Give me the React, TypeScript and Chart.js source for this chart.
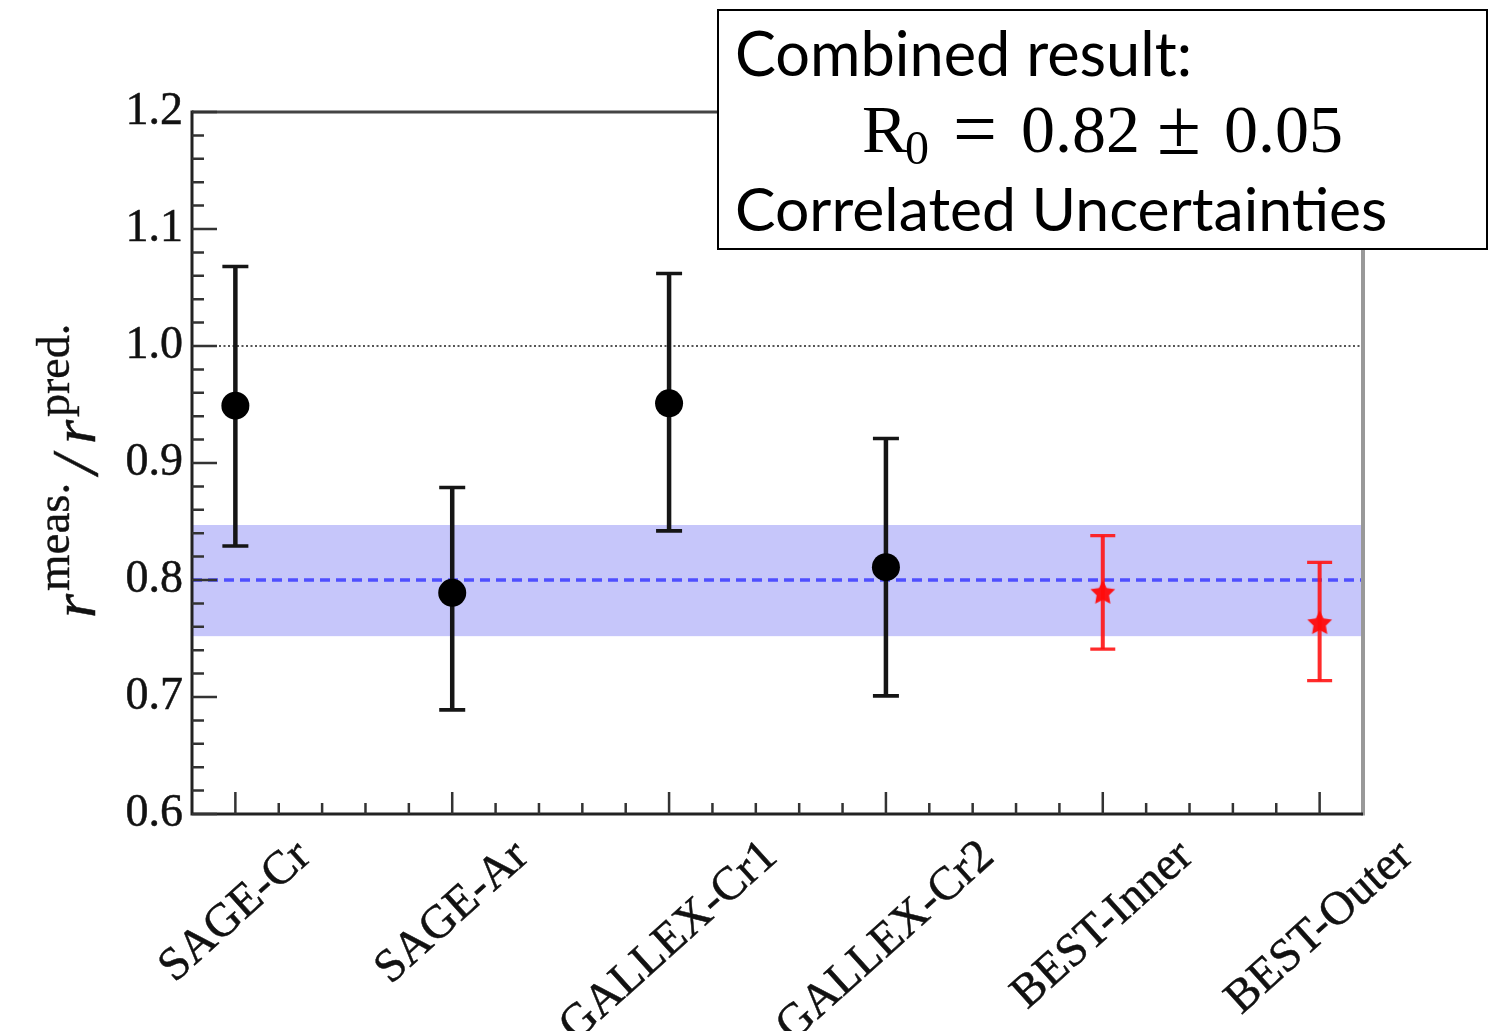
import React, { useEffect, useRef } from "react";
import { Chart, registerables } from "chart.js";

Chart.register(...registerables);

// ---------------- data ----------------
const categories = ["SAGE-Cr", "SAGE-Ar", "GALLEX-Cr1", "GALLEX-Cr2", "BEST-Inner", "BEST-Outer"];
const galliumIdx = [0, 1, 2, 3];
const galliumValues = [0.949, 0.789, 0.951, 0.811];
const galliumLow = [0.829, 0.689, 0.842, 0.701];
const galliumHigh = [1.068, 0.879, 1.062, 0.921];
const bestIdx = [4, 5];
const bestValues = [0.79, 0.764];
const bestLow = [0.741, 0.714];
const bestHigh = [0.838, 0.815];
const combinedCentral = 0.8;
const combinedBand = [0.752, 0.847];
const referenceRatio = 1.0;
const yTicks = [0.6, 0.7, 0.8, 0.9, 1.0, 1.1, 1.2];
const xRange = [-0.2, 5.2];

const SERIF = "'Liberation Serif', 'Times New Roman', serif";
const SANS = "Lato, 'Open Sans', sans-serif";

function makeStar(r: number, color: string) {
  const size = Math.ceil(r * 2 + 2);
  const c = document.createElement("canvas");
  c.width = size;
  c.height = size;
  const g = c.getContext("2d")!;
  g.fillStyle = color;
  g.beginPath();
  for (let k = 0; k < 10; k++) {
    const rad = k % 2 === 0 ? r : r * 0.5;
    const a = -Math.PI / 2 + (k * Math.PI) / 5;
    g.lineTo(size / 2 + rad * Math.cos(a), size / 2 + rad * Math.sin(a) + 1.5);
  }
  g.closePath();
  g.fill();
  return c;
}

function strokeFill(ctx: CanvasRenderingContext2D, txt: string, x: number, y: number, sw: number) {
  ctx.fillText(txt, x, y);
  if (sw > 0) {
    ctx.lineWidth = sw;
    ctx.strokeText(txt, x, y);
  }
}

const decorPlugin = {
  id: "decor",
  beforeDatasetsDraw(chart: any) {
    const { ctx, chartArea, scales } = chart;
    const xs = scales.x;
    const ys = scales.y;
    const L = chartArea.left;
    const R = chartArea.right;
    ctx.save();
    // band
    const yb1 = ys.getPixelForValue(combinedBand[1]);
    const yb0 = ys.getPixelForValue(combinedBand[0]);
    ctx.fillStyle = "#c6c6fa";
    ctx.fillRect(L, yb1, R - L, yb0 - yb1);
    // dashed central
    ctx.strokeStyle = "#4f4fff";
    ctx.lineWidth = 3.5;
    ctx.setLineDash([10, 6]);
    const yc = ys.getPixelForValue(combinedCentral);
    ctx.beginPath();
    ctx.moveTo(L, yc);
    ctx.lineTo(R, yc);
    ctx.stroke();
    // dotted reference
    ctx.strokeStyle = "#555";
    ctx.lineWidth = 2;
    ctx.setLineDash([2, 2.5]);
    const yr = ys.getPixelForValue(referenceRatio);
    ctx.beginPath();
    ctx.moveTo(L, yr);
    ctx.lineTo(R, yr);
    ctx.stroke();
    ctx.setLineDash([]);

    const drawBars = (idx: number[], lo: number[], hi: number[], color: string, lw: number, cap: number) => {
      ctx.strokeStyle = color;
      idx.forEach((xi, i) => {
        const px = xs.getPixelForValue(xi);
        const pl = ys.getPixelForValue(lo[i]);
        const ph = ys.getPixelForValue(hi[i]);
        ctx.lineWidth = lw;
        ctx.beginPath();
        ctx.moveTo(px, pl);
        ctx.lineTo(px, ph);
        ctx.stroke();
        ctx.lineWidth = lw * 0.8;
        ctx.beginPath();
        ctx.moveTo(px - cap / 2, pl);
        ctx.lineTo(px + cap / 2, pl);
        ctx.moveTo(px - cap / 2, ph);
        ctx.lineTo(px + cap / 2, ph);
        ctx.stroke();
      });
    };
    drawBars(galliumIdx, galliumLow, galliumHigh, "#151515", 4.5, 26);
    drawBars(bestIdx, bestLow, bestHigh, "rgba(255,20,20,0.9)", 4, 25);
    ctx.restore();
  },
  afterDraw(chart: any) {
    const { ctx, chartArea, scales } = chart;
    const xs = scales.x;
    const ys = scales.y;
    const { left: L, right: R, top: T, bottom: B } = chartArea;
    ctx.save();
    ctx.lineCap = "butt";
    // frame
    ctx.strokeStyle = "#444";
    ctx.lineWidth = 3;
    ctx.beginPath();
    ctx.moveTo(L, T);
    ctx.lineTo(R, T);
    ctx.stroke();
    ctx.strokeStyle = "#999";
    ctx.lineWidth = 4;
    ctx.beginPath();
    ctx.moveTo(R, T);
    ctx.lineTo(R, B + 1.5);
    ctx.stroke();
    ctx.strokeStyle = "#222";
    ctx.lineWidth = 3;
    ctx.beginPath();
    ctx.moveTo(L, T - 1.5);
    ctx.lineTo(L, B);
    ctx.lineTo(R, B);
    ctx.stroke();
    // y ticks
    ctx.lineWidth = 2.5;
    ctx.strokeStyle = "#333";
    ctx.beginPath();
    for (let i = 0; i < yTicks.length; i++) {
      const py = ys.getPixelForValue(yTicks[i]);
      ctx.moveTo(L, py);
      ctx.lineTo(L + 25, py);
      if (i < yTicks.length - 1) {
        for (let k = 1; k < 5; k++) {
          const v = yTicks[i] + ((yTicks[i + 1] - yTicks[i]) * k) / 5;
          const pm = ys.getPixelForValue(v);
          ctx.moveTo(L, pm);
          ctx.lineTo(L + 12, pm);
        }
      }
    }
    // x ticks
    for (let i = 0; i < categories.length; i++) {
      const px = xs.getPixelForValue(i);
      ctx.moveTo(px, B);
      ctx.lineTo(px, B - 22);
      if (i < categories.length - 1) {
        for (let k = 1; k < 5; k++) {
          const pm = xs.getPixelForValue(i + k / 5);
          ctx.moveTo(pm, B);
          ctx.lineTo(pm, B - 11);
        }
      }
    }
    ctx.stroke();

    // x labels
    const theta = (42 * Math.PI) / 180;
    ctx.fillStyle = "#111";
    ctx.strokeStyle = "#111";
    ctx.font = `47px ${SERIF}`;
    ctx.textAlign = "right";
    ctx.textBaseline = "middle";
    categories.forEach((lab, i) => {
      const px = xs.getPixelForValue(i);
      const w = ctx.measureText(lab).width;
      const ex = px + (w / 2) * Math.cos(theta);
      ctx.save();
      ctx.translate(ex, 850);
      ctx.rotate(-theta);
      strokeFill(ctx, lab, 0, 0, 0.5);
      ctx.restore();
    });

    // y title
    ctx.save();
    ctx.translate(95, 618);
    ctx.rotate(-Math.PI / 2);
    ctx.textAlign = "left";
    ctx.textBaseline = "alphabetic";
    ctx.fillStyle = "#111";
    ctx.strokeStyle = "#111";
    ctx.font = `italic 62px ${SERIF}`;
    strokeFill(ctx, "r", 0, 0, 0.5);
    ctx.font = `47px ${SERIF}`;
    strokeFill(ctx, "meas.", 27, -26, 0.4);
    ctx.font = `italic 66px ${SERIF}`;
    strokeFill(ctx, "/", 144, 2, 0.5);
    ctx.font = `italic 62px ${SERIF}`;
    strokeFill(ctx, "r", 174, 0, 0.5);
    ctx.font = `46px ${SERIF}`;
    strokeFill(ctx, "pred.", 201, -26, 0.4);
    ctx.restore();

    // legend box
    ctx.fillStyle = "#ffffff";
    ctx.fillRect(718, 10, 769, 239);
    ctx.strokeStyle = "#000";
    ctx.lineWidth = 2;
    ctx.strokeRect(718, 10, 769, 239);
    ctx.fillStyle = "#000";
    ctx.textAlign = "left";
    ctx.textBaseline = "alphabetic";
    const fitText = (txt: string, x: number, y: number, target: number) => {
      ctx.font = `60px ${SANS}`;
      const w = ctx.measureText(txt).width;
      const s = (60 * target) / w;
      ctx.font = `${s.toFixed(1)}px ${SANS}`;
      ctx.fillText(txt, x, y);
    };
    fitText("Combined result:", 735, 76, 457);
    fitText("Correlated Uncertainties", 735, 231, 653);
    ctx.font = `68px ${SERIF}`;
    ctx.fillText("R", 862, 152);
    ctx.font = `48px ${SERIF}`;
    ctx.fillText("0", 905, 164);
    ctx.font = `78px ${SERIF}`;
    ctx.fillText("=", 953, 155);
    ctx.font = `68px ${SERIF}`;
    ctx.fillText("0.82", 1021, 152);
    ctx.font = `80px ${SERIF}`;
    ctx.fillText("±", 1157, 154);
    ctx.font = `68px ${SERIF}`;
    ctx.fillText("0.05", 1224, 152);
    ctx.restore();
  },
};

export default function App() {
  const ref = useRef<HTMLCanvasElement | null>(null);
  useEffect(() => {
    if (!ref.current) return;
    const star = makeStar(13, "rgba(255,10,10,0.95)");
    const chart = new Chart(ref.current, {
      type: "scatter",
      data: {
        datasets: [
          {
            label: "Gallium",
            data: galliumIdx.map((x, i) => ({ x, y: galliumValues[i] })),
            pointRadius: 14,
            pointHoverRadius: 14,
            pointBackgroundColor: "#000",
            pointBorderWidth: 0,
            borderWidth: 0,
          },
          {
            label: "BEST",
            data: bestIdx.map((x, i) => ({ x, y: bestValues[i] })),
            pointStyle: star as any,
            pointRadius: 13,
            pointHoverRadius: 13,
            pointBorderWidth: 0,
            borderWidth: 0,
          },
        ],
      },
      options: {
        responsive: false,
        animation: false,
        events: [],
        layout: { padding: { left: 0, top: 112, right: 132, bottom: 0 } },
        plugins: { legend: { display: false }, tooltip: { enabled: false } },
        scales: {
          x: {
            type: "linear",
            min: xRange[0],
            max: xRange[1],
            grid: { display: false },
            border: { display: false },
            ticks: { display: false },
            afterFit: (s: any) => {
              s.height = 217;
            },
          },
          y: {
            type: "linear",
            min: yTicks[0],
            max: yTicks[yTicks.length - 1],
            grid: { display: false, drawTicks: false },
            border: { display: false },
            afterBuildTicks: (s: any) => {
              s.ticks = yTicks.map((v) => ({ value: v }));
            },
            ticks: {
              padding: 9,
              color: "#111",
              textStrokeColor: "#111",
              textStrokeWidth: 0.5,
              font: { family: SERIF, size: 46 },
              callback: (v: any) => Number(v).toFixed(1),
            },
            afterFit: (s: any) => {
              s.width = 192;
            },
          },
        },
      },
      plugins: [decorPlugin],
    });
    return () => chart.destroy();
  }, []);
  return (
    <div style={{ position: "fixed", left: 0, top: 0, width: 1495, height: 1031, background: "#fff" }}>
      <canvas ref={ref} width={1495} height={1031} style={{ width: 1495, height: 1031 }} />
    </div>
  );
}
